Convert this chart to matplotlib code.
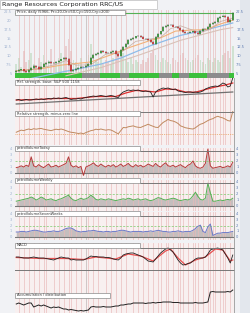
import matplotlib
matplotlib.use("Agg")
import matplotlib.pyplot as plt
from matplotlib.patches import Rectangle
from matplotlib.lines import Line2D
import numpy as np

# ---- data ----
close = [5.8, 6.1, 6.3, 5.9, 5.5, 6.2, 6.8, 7.2, 6.9, 6.5,
         7.1, 7.8, 8.0, 8.3, 8.1, 8.0, 8.4, 8.8, 9.1, 9.6,
         9.2, 7.5, 5.9, 6.2, 6.4, 6.8, 7.0, 6.9, 7.3, 7.8,
         9.5, 10.4, 10.7, 11.0, 11.4, 11.2, 11.0, 10.8, 11.3, 11.5,
         10.6, 10.0, 11.8, 12.6, 13.4, 14.6, 14.9, 15.2, 15.6, 15.8,
         15.5, 15.0, 14.8, 14.6, 14.0, 13.5, 15.4, 16.2, 17.0, 18.2,
         18.5, 18.8, 18.9, 18.4, 18.3, 18.0, 17.5, 16.8, 16.6, 16.7,
         16.9, 17.0, 16.6, 16.2, 17.2, 17.6, 17.8, 18.2, 19.2, 19.4,
         19.6, 20.8, 21.2, 21.3, 21.0, 19.6, 20.2, 22.2]
volume = [30, 45, 25, 60, 35, 40, 55, 30, 25, 45,
          35, 50, 30, 40, 65, 35, 30, 45, 55, 40,
          70, 85, 60, 40, 35, 30, 45, 25, 35, 50,
          75, 55, 40, 35, 45, 30, 40, 35, 30, 45,
          50, 60, 45, 55, 40, 35, 45, 30, 40, 35,
          30, 40, 35, 45, 55, 60, 50, 40, 35, 45,
          40, 35, 30, 45, 40, 35, 50, 55, 45, 40,
          35, 40, 45, 50, 40, 35, 30, 45, 40, 35,
          45, 40, 35, 50, 55, 60, 45, 70]
ma20_idx = [0, 8, 16, 20, 24, 30, 36, 42, 48, 54, 58, 62, 66, 70, 74, 78, 82, 87]
ma20_val = [5.8, 6.4, 7.7, 8.8, 7.5, 7.6, 10.6, 11.0, 14.2, 14.9, 15.3, 17.8, 18.6, 17.6, 16.7, 17.6, 19.8, 20.8]
ma50_idx = [0, 10, 18, 22, 30, 38, 46, 54, 58, 64, 70, 76, 82, 87]
ma50_val = [5.9, 6.5, 7.5, 7.8, 8.4, 10.4, 12.6, 14.5, 15.2, 17.1, 17.4, 17.5, 19.1, 20.2]
ma150_idx = [5, 12, 18, 26, 34, 42, 54, 66, 74, 82, 87]
ma150_val = [3.6, 4.6, 5.5, 6.6, 7.8, 9.5, 13.0, 15.9, 17.1, 18.5, 19.4]
ma200_idx = [20, 34, 50, 66, 82, 87]
ma200_val = [4.5, 6.8, 10.5, 14.5, 17.5, 18.1]
price_ticks = [5, 7.5, 10, 12.5, 15, 17.5, 20, 22.5]
strip_gray = [(27, 33), (42, 45), (58, 62), (66, 69), (77, 85)]

rs = [11, 11.5, 10.5, 11, 11.5, 11, 11, 11.5, 12, 11.5,
      12, 11.5, 12, 12.5, 12, 13, 12.5, 13, 12.5, 13,
      13.5, 12.5, 11.5, 12, 12, 12.5, 12, 13, 13.5, 14,
      14.5, 15, 14.5, 15, 15.5, 15, 14.5, 15, 15.5, 15,
      14, 13.5, 17, 19, 20, 21, 20.5, 21, 20.5, 21,
      20, 19.5, 20, 19.5, 19, 14, 19, 21, 22, 23,
      22.5, 23, 22, 21.5, 22, 20, 19.5, 19, 18.5, 19,
      19, 18.5, 19, 18.5, 19, 20, 22, 23, 24, 24.5,
      25, 24.5, 26, 28, 27, 24, 25, 33]
rs_ma_idx = [0, 8, 16, 24, 32, 40, 44, 48, 52, 56, 60, 64, 68, 72, 76, 80, 84, 87]
rs_ma_val = [11, 11.5, 12.5, 12.5, 14.5, 14.5, 18, 20.5, 20, 19, 22, 21.5, 19, 18.8, 21.5, 24, 26, 28]
rs_trend_idx = [0, 87]
rs_trend_val = [7, 19]

rsz = [13.3, 14.5, 15.5, 15, 16, 16.7, 16, 17, 16.5, 17,
       17.3, 16.5, 16, 15.5, 15, 15.8, 16.5, 16, 16.7, 16,
       15, 14, 13.3, 13, 12.5, 12, 12.5, 11.7, 13, 14,
       15, 15.5, 16.5, 16, 16.7, 16, 15.5, 16, 15.7, 14.5,
       13, 11.7, 15, 18.3, 18, 19, 19.5, 20, 19, 18.5,
       18.3, 19.5, 20.5, 21.7, 20.5, 19.5, 18.5, 18.3, 21, 23.5,
       25, 26.7, 25.5, 25, 24, 22.5, 20, 19, 18, 17.5,
       17, 16.7, 18, 20, 21.7, 22.5, 24, 25.5, 26.7, 27.5,
       29, 30, 29, 28.3, 27, 25.5, 25, 35]
rsz_zero = 12

pv_today = [0.9, 1.0, 1.2, 1.0, 1.3, 1.1, 2.7, 1.2, 1.0, 1.4,
            1.1, 0.9, 1.2, 1.5, 1.0, 1.1, 1.3, 1.0, 1.2, 1.4,
            1.6, 2.7, 1.3, 1.0, 1.2, 0.9, 1.1, -0.4, 1.0, 1.2,
            1.4, 1.7, 1.3, 1.1, 1.5, 1.2, 1.0, 1.3, 1.1, 1.4,
            1.0, 1.2, 1.5, 1.1, 1.3, 1.6, 1.2, 1.0, 1.4, 1.1,
            1.3, 1.0, 1.2, 1.5, 1.3, 1.1, 1.6, 1.2, 1.0, 1.4,
            1.7, 1.2, 1.1, 1.3, 1.0, 1.2, 1.4, 1.1, 0.9, 1.3,
            1.5, 2.0, 1.2, 0.9, 0.8, 1.0, 1.6, 4.0, 1.2, 0.8,
            0.9, 1.0, 1.1, 0.9, 1.0, 1.2, 1.0, 1.8]
pv_week = [0.8, 0.9, 1.0, 1.1, 1.2, 1.3, 1.5, 1.3, 1.0, 1.2,
           1.5, 1.3, 1.0, 1.1, 1.2, 1.0, 0.9, 1.1, 1.2, 1.4,
           1.6, 1.8, 1.3, 1.0, 0.9, 1.1, 1.3, 1.1, 1.2, 1.4,
           1.8, 1.5, 1.1, 1.0, 1.2, 1.1, 1.0, 1.2, 1.1, 1.0,
           0.9, 1.0, 1.1, 1.2, 1.1, 1.3, 1.2, 1.0, 1.1, 1.2,
           1.0, 1.1, 1.2, 1.0, 0.9, 1.0, 1.2, 1.4, 1.3, 1.1,
           1.0, 1.1, 1.2, 1.3, 1.2, 1.0, 0.9, 1.0, 1.1, 1.0,
           1.2, 1.7, 2.3, 1.6, 1.1, 1.0, 1.3, 3.8, 2.2, 0.8,
           0.8, 0.9, 1.0, 0.9, 1.0, 1.1, 1.0, 1.3]
pv_7w = [0.9, 0.9, 1.0, 1.0, 0.9, 1.0, 1.1, 1.2, 1.2, 1.1,
         1.0, 0.9, 0.9, 1.0, 1.0, 1.1, 1.0, 1.0, 1.1, 1.3,
         1.5, 1.6, 1.6, 1.4, 1.1, 1.0, 0.9, 1.0, 1.0, 1.1,
         1.1, 1.2, 1.1, 1.0, 1.0, 0.9, 1.0, 1.0, 0.9, 1.0,
         1.0, 1.1, 1.2, 1.2, 1.1, 1.0, 0.9, 1.0, 1.0, 1.0,
         1.0, 0.9, 1.0, 1.0, 1.1, 1.0, 1.1, 1.2, 1.1, 1.0,
         1.0, 0.9, 0.9, 1.0, 1.0, 1.1, 1.0, 0.9, 1.0, 1.0,
         1.0, 1.2, 1.5, 1.9, 2.1, 1.0, 0.8, 1.8, 2.3, 0.3,
         0.5, 0.7, 0.7, 0.8, 0.8, 0.8, 0.9, 1.0]
pv_ticks = [0, 1, 2, 3, 4]

macd = [13, 13, 12.5, 12, 12, 12, 12.5, 13, 12.5, 12,
        12, 12, 11.5, 11, 10.5, 10, 11, 12, 13, 12.5,
        12, 12, 10, 10.5, 10, 10, 10, 10, 11, 12.5,
        14, 13.5, 13.5, 13, 13, 13, 12.5, 12.5, 12, 11,
        10.5, 10, 12, 15, 16, 16.5, 17, 17, 16, 15,
        14, 13, 11, 9, 8.5, 8, 11, 14, 17, 19,
        21, 22, 20, 18, 14, 10, 7, 5, 5.5, 6.5,
        7, 9, 11, 12, 12, 12, 13, 16, 20, 21,
        21.5, 22, 21, 20, 16, 12, 7, 15]
macd_sig_idx = [0, 10, 20, 27, 32, 40, 45, 50, 55, 60, 62, 65, 68, 72, 76, 80, 83, 86, 87]
macd_sig_val = [12.5, 11.5, 11.5, 10.5, 13, 11, 16, 14, 9, 19, 21, 12, 5, 10, 13, 21, 20, 9, 10]

acc_dist = [9, 10, 9, 8, 9, 10, 10, 6, 7, 8,
            7, 8, 7, 6, 5, 6, 5.5, 6, 5, 4,
            4, 3, 3.5, 3, 2.5, 2, 2.5, 2, 2.5, 3,
            6, 6.5, 6, 6, 6, 6.5, 6, 6, 6, 6.5,
            7, 7, 8, 8, 8.5, 9, 9, 10, 10, 10,
            10, 10, 9.5, 10, 10, 10.5, 10, 10.5, 10.5, 11,
            11, 11, 11, 10.5, 10.5, 10.5, 10, 10, 10, 10,
            10, 10, 10.5, 10, 10, 10, 10.5, 11, 21, 21.5,
            21, 21, 21, 21, 21, 21.5, 21, 23]

stripes = [1, 3, 5, 7, 9, 11, 12, 15, 17, 19, 21, 22, 24, 26, 29, 31, 33, 36, 38, 40,
           42, 44, 47, 49, 51, 53, 55, 57, 58, 60, 61, 63, 65, 66, 67, 69, 71, 72, 73,
           75, 77, 78, 79, 80, 82, 83, 84, 86]

N = len(close)
x = np.arange(N)
W, H = 250, 313
X0, X1 = 15, 234

fig = plt.figure(figsize=(2.5, 3.13), dpi=100)
fig.patch.set_facecolor("#f1f2f5")


def rect(x0, y0, x1, y1):
    return [x0 / W, 1 - y1 / H, (x1 - x0) / W, (y1 - y0) / H]


def panel(y0, y1, ylim):
    ax = fig.add_axes(rect(X0, y0, X1, y1))
    ax.set_facecolor("#f8f0f0")
    for s in stripes:
        ax.axvline(s, color="#e9b9b9", lw=0.6, alpha=0.75)
    ax.axvline(28, color="#c9c0c0", lw=0.6)
    ax.set_xlim(-0.5, N - 0.5)
    ax.set_ylim(*ylim)
    ax.set_xticks([])
    ax.set_yticks([])
    for sp in ax.spines.values():
        sp.set_visible(False)
    return ax


def label(x0, y0, x1, y1, text):
    fig.patches.append(Rectangle((x0 / W, 1 - y1 / H), (x1 - x0) / W, (y1 - y0) / H,
                                 transform=fig.transFigure, fc="white", ec="#8a8a8a", lw=0.5, zorder=5))
    fig.text((x0 + 2) / W, 1 - (y0 + y1) / 2 / H, text, fontsize=2.6, va="center",
             color="#333333", zorder=6)


def hline(xa, xb, y, color="#777777", lw=0.7):
    fig.add_artist(Line2D([xa / W, xb / W], [1 - y / H, 1 - y / H], color=color, lw=lw,
                          transform=fig.transFigure, zorder=4))


def right_ticks(ax, ticks, labels=None, left=False):
    labels = labels or [str(t) for t in ticks]
    for t, lab in zip(ticks, labels):
        ax.text(1.01, t, lab, transform=ax.get_yaxis_transform(), fontsize=2.6,
                color="#5a78b0", va="center", ha="left")
        if left:
            ax.text(-0.015, t, lab, transform=ax.get_yaxis_transform(), fontsize=2.6,
                    color="#9fb2d0", va="center", ha="right")


# right margin
fig.patches.append(Rectangle((240 / W, 0), 10 / W, 1, transform=fig.transFigure,
                             fc="#e3e7ed", ec="none", zorder=0))

# ---- price panel ----
axp = panel(10, 78, (3.87, 23.06))
axv = axp.twinx()
axv.set_ylim(0, 150)
axv.axis("off")
opens = [close[0] - 0.2] + close[:-1]
up = [c >= o for c, o in zip(close, opens)]
axv.bar(x, volume, width=0.7, color=["#a9cfa9" if u else "#e0a8a8" for u in up], alpha=0.45, lw=0)
axp.set_zorder(axv.get_zorder() + 1)
axp.patch.set_visible(False)
axv.set_zorder(0)
axp.axhspan(3.87, 3.87 + 0.075 * 19.2, color="#3cbf3c", lw=0, zorder=2)
for a, b in strip_gray:
    axp.fill_between([a - 0.5, b + 0.5], 3.87, 3.87 + 0.075 * 19.2, color="#8c8c8c", lw=0, zorder=2)
axp.plot(ma200_idx, ma200_val, color="#d9c2b8", lw=0.8, zorder=3)
axp.plot(ma150_idx, ma150_val, color="#8ebbe8", lw=0.9, zorder=3)
axp.plot(ma50_idx, ma50_val, color="#f2b27a", lw=0.8, zorder=3)
axp.plot(ma20_idx, ma20_val, color="#c4a79a", lw=0.6, alpha=0.8, zorder=3)
lo = [min(o, c) - 0.25 for o, c in zip(opens, close)]
hi = [max(o, c) + 0.25 for o, c in zip(opens, close)]
axp.vlines(x, lo, hi, color="#333333", lw=0.35, zorder=4)
axp.vlines(x, opens, close, color=["#2a8a2a" if u else "#c82828" for u in up], lw=1.1, zorder=5)
axp.axhline(max(close), color="#55b055", lw=0.8, zorder=4)
axp.set_ylim(3.87, 23.06)
right_ticks(axp, price_ticks, left=True)

# ---- relative strength ----
axr = panel(78, 111, (0, 33))
axr.plot(rs_trend_idx, rs_trend_val, color="#707070", lw=0.9)
axr.plot(rs_ma_idx, rs_ma_val, color="#e03030", lw=0.9)
axr.plot(x, rs, color="#222222", lw=0.6)

# ---- relative strength minus zero line ----
axz = panel(111, 145, (0, 35.5))
axz.axhline(rsz_zero, color="#e8a060", lw=0.6, ls=(0, (1, 1.2)))
axz.plot(x, rsz, color="#c08a60", lw=0.7)
hline(140, X1, 111.5)

# ---- petro volume panels ----
pv_panels = [
    (148, 178, (-0.83, 4.17), pv_today, "#b53a3a", 150.5),
    (180, 211, (-0.83, 4.33), pv_week, "#55b055", 183),
    (212, 240, (-0.5, 4.4), pv_7w, "#6a78c8", 216),
]
for y0, y1, yl, vals, col, top in pv_panels:
    ax = panel(y0, y1, yl)
    ax.fill_between(x, 0, vals, color="#b8b2b2", alpha=0.8, lw=0)
    ax.axhline(2, color="#7acb6a", lw=0.5, ls=(0, (3, 2)))
    ax.axhline(0, color="#777777", lw=0.8)
    ax.plot(x, vals, color=col, lw=0.7)
    right_ticks(ax, pv_ticks, left=True)
    hline(140, X1, top)

# ---- MACD ----
axm = panel(243, 270, (0, 27))
axm.plot(macd_sig_idx, macd_sig_val, color="#e85050", lw=0.9)
axm.plot(x, macd, color="#222222", lw=0.6)
hline(140, X1, 248)
hline(X0, X1, 270)

# ---- accumulation / distribution ----
axa = panel(270, 313, (0, 43))
axa.plot(x, acc_dist, color="#222222", lw=0.7)

# right border
fig.add_artist(Line2D([X1 / W, X1 / W], [0, 1 - 78 / H], color="#9a9a9a", lw=0.6,
                      transform=fig.transFigure, zorder=4))

# ---- labels ----
fig.patches.append(Rectangle((0, 1 - 9 / H), 157 / W, 9 / H, transform=fig.transFigure,
                             fc="white", ec="#b0b0b0", lw=0.4, zorder=5))
fig.text(2 / W, 1 - 4.6 / H, "Range Resources Corporation RRC/US", fontsize=4.6,
         va="center", color="#222222", zorder=6)
label(15, 9.5, 125, 14.5, "Price, daily (5966, Pr=20,Or=50,Cy=150,Cry=200)")
label(15, 80, 140, 85, "Rel. strength, base: S&P 500 1158")
label(15, 111, 140, 116, "Relative strength, minus zero line")
label(15, 146, 140, 151, "petroVolumeToday")
label(15, 178, 140, 183, "petroVolumeWeekly")
label(15, 211, 140, 216, "petroVolumeSevenWeeks")
label(15, 243, 140, 248, "MACD")
label(15, 293, 110, 298, "Accumulation / distribution")

fig.savefig("out.png", dpi=100, facecolor=fig.get_facecolor())
